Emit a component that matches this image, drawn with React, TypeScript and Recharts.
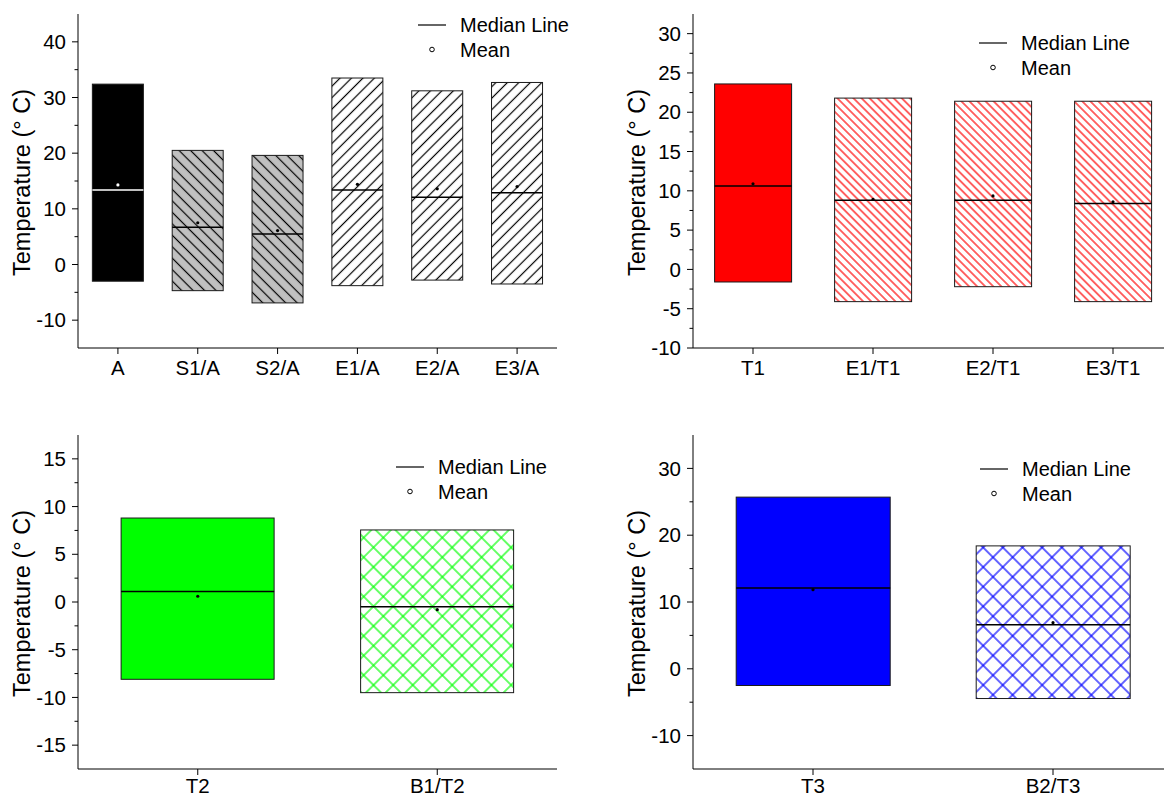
import { ComposedChart, Bar, Scatter, XAxis, YAxis } from 'recharts';

// Temperature spread per site: min/max box, median line and mean point
const cats1 = ['A', 'S1/A', 'S2/A', 'E1/A', 'E2/A', 'E3/A'];
const min1 = [-3.0, -4.7, -6.9, -3.8, -2.8, -3.5];
const max1 = [32.4, 20.5, 19.6, 33.5, 31.2, 32.7];
const median1 = [13.4, 6.7, 5.5, 13.4, 12.1, 12.9];
const mean1 = [14.3, 7.5, 6.1, 14.4, 13.6, 14.0];
const yMajor1 = [-10, 0, 10, 20, 30, 40];
const yMinor1 = [-5, 5, 15, 25, 35];

const cats2 = ['T1', 'E1/T1', 'E2/T1', 'E3/T1'];
const min2 = [-1.6, -4.1, -2.2, -4.1];
const max2 = [23.6, 21.8, 21.4, 21.4];
const median2 = [10.6, 8.8, 8.8, 8.4];
const mean2 = [10.9, 8.9, 9.35, 8.6];
const yMajor2 = [-10, -5, 0, 5, 10, 15, 20, 25, 30];
const yMinor2 = [-7.5, -2.5, 2.5, 7.5, 12.5, 17.5, 22.5, 27.5];

const cats3 = ['T2', 'B1/T2'];
const min3 = [-8.1, -9.5];
const max3 = [8.8, 7.55];
const median3 = [1.1, -0.5];
const mean3 = [0.6, -0.8];
const yMajor3 = [-15, -10, -5, 0, 5, 10, 15];
const yMinor3 = [-12.5, -7.5, -2.5, 2.5, 7.5, 12.5];

const cats4 = ['T3', 'B2/T3'];
const min4 = [-2.5, -4.45];
const max4 = [25.7, 18.4];
const median4 = [12.1, 6.6];
const mean4 = [11.85, 6.9];
const yMajor4 = [-10, 0, 10, 20, 30];
const yMinor4 = [-5, 5, 15, 25];

const FONT = '"Liberation Sans", Arial, sans-serif';
const TICK_FONT = 20.5;
const TICK_SIZE = 6;
const TICK_GAP = 6;

type Hatch = { bg: string; line?: string; spacing?: number; kind?: 'fwd' | 'back' | 'cross' };

const GRAY_BACK: Hatch = { bg: '#c0c0c0', line: '#000', spacing: 8.1, kind: 'back' };
const WHITE_FWD: Hatch = { bg: '#fff', line: '#000', spacing: 8.1, kind: 'fwd' };
const RED_BACK: Hatch = { bg: '#fff', line: '#ff0000', spacing: 5.7, kind: 'back' };
const GREEN_CROSS: Hatch = { bg: '#fff', line: '#00ff00', spacing: 13.9, kind: 'cross' };
const BLUE_CROSS: Hatch = { bg: '#fff', line: '#0000ff', spacing: 13.9, kind: 'cross' };

const hatch1: Hatch[] = [{ bg: '#000' }, GRAY_BACK, GRAY_BACK, WHITE_FWD, WHITE_FWD, WHITE_FWD];
const ink1 = ['#fff', '#000', '#000', '#000', '#000', '#000'];
const hatch2: Hatch[] = [{ bg: '#ff0000' }, RED_BACK, RED_BACK, RED_BACK];
const ink2 = ['#000', '#000', '#000', '#000'];
const hatch3: Hatch[] = [{ bg: '#00ff00' }, GREEN_CROSS];
const ink3 = ['#000', '#000'];
const hatch4: Hatch[] = [{ bg: '#0000ff' }, BLUE_CROSS];
const ink4 = ['#000', '#000'];

function buildRows(cats: string[], mins: number[], maxs: number[], medians: number[], means: number[]) {
  return cats.map((name, i) => ({
    name,
    range: [mins[i], maxs[i]],
    min: mins[i],
    max: maxs[i],
    median: medians[i],
    mean: means[i],
  }));
}

function BoxShape(props: any) {
  const { x, y, width, height, payload, index, id, hatches, inks } = props;
  const top = Math.min(y, y + height);
  const h = Math.abs(height);
  const hatch: Hatch = hatches[index];
  const patId = `hatch-${id}-${index}`;
  // median sits between the max (top) and min (bottom) edges
  const my = top + ((payload.max - payload.median) / (payload.max - payload.min)) * h;
  const s = hatch.spacing || 8;
  return (
    <g>
      {hatch.kind && (
        <defs>
          <pattern
            id={patId}
            patternUnits="userSpaceOnUse"
            width={s}
            height={s}
            patternTransform={`rotate(${hatch.kind === 'back' ? -45 : 45})`}
          >
            <rect width={s} height={s} fill={hatch.bg} />
            <line x1={s / 2} y1={0} x2={s / 2} y2={s} stroke={hatch.line} strokeWidth={1.2} />
            {hatch.kind === 'cross' && (
              <line x1={0} y1={s / 2} x2={s} y2={s / 2} stroke={hatch.line} strokeWidth={1.2} />
            )}
          </pattern>
        </defs>
      )}
      <rect
        x={x}
        y={top}
        width={width}
        height={h}
        fill={hatch.kind ? `url(#${patId})` : hatch.bg}
        stroke="#1a1a1a"
        strokeWidth={1}
      />
      <line x1={x} x2={x + width} y1={my} y2={my} stroke={inks[index]} strokeWidth={1.5} />
    </g>
  );
}

function YTick(props: any) {
  const { x, y, payload, majors } = props;
  const v = payload.value;
  const major = majors.includes(v);
  const ax = x + TICK_SIZE + TICK_GAP;
  return (
    <g>
      <line x1={ax - (major ? 6 : 3.5)} x2={ax} y1={y} y2={y} stroke="#000" strokeWidth={1} />
      {major && (
        <text x={x} y={y} dy="0.35em" textAnchor="end" fontSize={TICK_FONT} fontFamily={FONT} fill="#000">
          {v}
        </text>
      )}
    </g>
  );
}

function Legend2({ cx, cy }: { cx: number; cy: number }) {
  return (
    <svg
      width={180}
      height={60}
      style={{ position: 'absolute', left: cx - 20, top: cy - 15, overflow: 'visible' }}
    >
      <g fontFamily={FONT} fontSize={20} fill="#000">
        <line x1={6} x2={34} y1={15} y2={15} stroke="#000" strokeWidth={1.2} />
        <text x={48} y={15} dy="0.35em">Median Line</text>
        <circle cx={20} cy={39.5} r={2.3} fill="none" stroke="#000" strokeWidth={1} />
        <text x={48} y={39.5} dy="0.35em">Mean</text>
      </g>
    </svg>
  );
}

type PanelProps = {
  id: string;
  left: number;
  top: number;
  width: number;
  height: number;
  axisWidth: number;
  margin: { top: number; right: number; bottom: number; left: number };
  xAxisHeight: number;
  labelGap: number;
  rows: any[];
  domain: [number, number];
  majors: number[];
  minors: number[];
  hatches: Hatch[];
  inks: string[];
  legend: { cx: number; cy: number };
};

function Panel(p: PanelProps) {
  const ticks = [...p.majors, ...p.minors].sort((a, b) => a - b);
  const title = (lp: any) => {
    const vb = lp.viewBox || { x: 0, y: p.margin.top, width: p.axisWidth, height: p.height - p.margin.top - p.margin.bottom - p.xAxisHeight };
    const cx = vb.x + vb.width - 56;
    const cy = vb.y + vb.height / 2 + 1.5;
    return (
      <text
        x={cx}
        y={cy}
        dy="0.35em"
        textAnchor="middle"
        transform={`rotate(-90, ${cx}, ${cy})`}
        fontSize={23.5}
        fontFamily={FONT}
        fill="#000"
      >
        Temperature (° C)
      </text>
    );
  };
  return (
    <div style={{ position: 'absolute', left: p.left, top: p.top, width: p.width, height: p.height }}>
      <ComposedChart width={p.width} height={p.height} data={p.rows} margin={p.margin} barCategoryGap="18%">
        <XAxis
          dataKey="name"
          height={p.xAxisHeight}
          stroke="#000"
          tickSize={6}
          tickMargin={p.labelGap}
          tick={{ fontSize: TICK_FONT, fontFamily: FONT, fill: '#000' }}
          interval={0}
        />
        <YAxis
          type="number"
          domain={p.domain}
          ticks={ticks}
          interval={0}
          width={p.axisWidth}
          stroke="#000"
          tickLine={false}
          tickSize={TICK_SIZE}
          tickMargin={TICK_GAP}
          tick={(tp: any) => <YTick {...tp} majors={p.majors} />}
          label={title}
        />
        <Bar
          dataKey="range"
          isAnimationActive={false}
          shape={(bp: any) => <BoxShape {...bp} id={p.id} hatches={p.hatches} inks={p.inks} />}
        />
        <Scatter
          dataKey="mean"
          isAnimationActive={false}
          shape={(sp: any) => <circle cx={sp.cx} cy={sp.cy} r={1.6} fill={p.inks[sp.index] ?? '#000'} />}
        />
      </ComposedChart>
      <Legend2 cx={p.legend.cx} cy={p.legend.cy} />
    </div>
  );
}

export default function App() {
  return (
    <div
      style={{
        position: 'absolute',
        left: 0,
        top: 0,
        width: 1164,
        height: 798,
        overflow: 'hidden',
        background: '#fff',
      }}
    >
      <Panel
        id="a"
        left={0}
        top={0}
        width={590}
        height={400}
        axisWidth={78}
        margin={{ top: 14, right: 33, bottom: 12, left: 0 }}
        xAxisHeight={40}
        labelGap={6}
        rows={buildRows(cats1, min1, max1, median1, mean1)}
        domain={[-15, 45]}
        majors={yMajor1}
        minors={yMinor1}
        hatches={hatch1}
        inks={ink1}
        legend={{ cx: 431.5, cy: 25 }}
      />
      <Panel
        id="t1"
        left={590}
        top={0}
        width={583}
        height={400}
        axisWidth={103}
        margin={{ top: 14, right: 0, bottom: 12, left: 0 }}
        xAxisHeight={40}
        labelGap={6}
        rows={buildRows(cats2, min2, max2, median2, mean2)}
        domain={[-10, 32.5]}
        majors={yMajor2}
        minors={yMinor2}
        hatches={hatch2}
        inks={ink2}
        legend={{ cx: 403, cy: 43.3 }}
      />
      <Panel
        id="t2"
        left={0}
        top={400}
        width={590}
        height={398}
        axisWidth={78}
        margin={{ top: 35, right: 33, bottom: 0, left: 0 }}
        xAxisHeight={29}
        labelGap={3}
        rows={buildRows(cats3, min3, max3, median3, mean3)}
        domain={[-17.5, 17.5]}
        majors={yMajor3}
        minors={yMinor3}
        hatches={hatch3}
        inks={ink3}
        legend={{ cx: 409.7, cy: 66.7 }}
      />
      <Panel
        id="t3"
        left={590}
        top={400}
        width={583}
        height={398}
        axisWidth={103}
        margin={{ top: 35, right: 0, bottom: 0, left: 0 }}
        xAxisHeight={29}
        labelGap={3}
        rows={buildRows(cats4, min4, max4, median4, mean4)}
        domain={[-15, 35]}
        majors={yMajor4}
        minors={yMinor4}
        hatches={hatch4}
        inks={ink4}
        legend={{ cx: 404.3, cy: 69 }}
      />
    </div>
  );
}
